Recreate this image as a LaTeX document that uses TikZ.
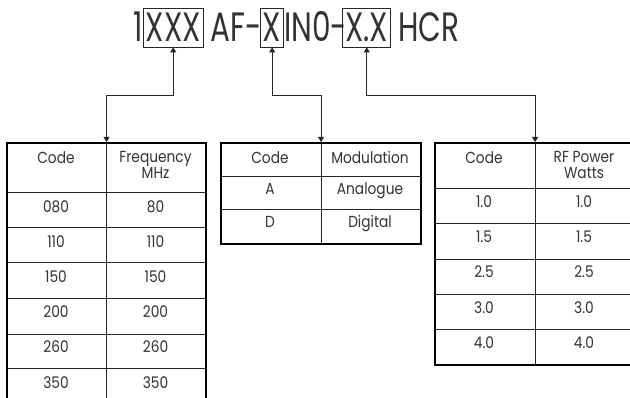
\documentclass[tikz,border=0pt]{standalone}
\usepackage{fontspec}
\setmainfont{Poppins}[FakeStretch=0.86]
\newfontfamily\titlefont{Poppins}[FakeStretch=0.72]
\usetikzlibrary{arrows.meta,calc}
\definecolor{txt}{HTML}{333333}
\begin{document}
\begin{tikzpicture}[x=1pt,y=-1pt,
  ttl/.style={font=\titlefont\fontsize{41}{41}\selectfont, text=txt, inner sep=0pt, anchor=base west},
  codebox/.style={ttl, draw=black!85, line width=0.8pt, text height=34pt, text depth=5pt, inner ysep=0pt, inner xsep=2.5pt},
  tframe/.style={draw=black, line width=2.2pt, anchor=north west, inner sep=0pt},
  tline/.style={draw=black!85, line width=0.9pt},
  cell/.style={font=\fontsize{16}{16}\selectfont, text=txt, inner sep=0pt, align=center, anchor=base},
  hcell/.style={cell, anchor=north},
  conn/.style={draw=black!85, line width=0.8pt, {Triangle[length=5pt,width=6pt]}-{Triangle[length=5pt,width=6pt]}}
]
\useasboundingbox (0,0) rectangle (630,398);
\clip (0,0) rectangle (630,398);
% title
\node[ttl] (p1) at (133,42) {1};
\node[codebox, anchor=base west] (b1) at (p1.base east) {XXX};
\node[ttl] (p2) at ([xshift=7pt]b1.base east) {AF-};
\node[codebox, anchor=base west] (b2) at ([xshift=-2pt]p2.base east) {X};
\node[ttl] (p3) at (b2.base east) {IN0-};
\node[codebox, anchor=base west] (b3) at ([xshift=-5pt]p3.base east) {X.X};
\node[ttl] (p4) at ([xshift=7pt]b3.base east) {HCR};
% table 1
\node[tframe, minimum width=199pt, minimum height=262pt] (T1) at (6,142) {};
\foreach \yy in {192,227,262,298,334,368} \draw[tline] (6,\yy) -- (205,\yy);
\draw[tline] (T1.north) -- (T1.south);
\node[tframe, minimum width=199pt, minimum height=262pt] at (6,142) {};
\node[hcell] (h11) at (56,151) {Code};
\node[hcell] (h12) at (155.5,151) {Frequency\\MHz};
\foreach \a/\b [count=\i] in {080/80,110/110,150/150,200/200,260/260,350/350} {
  \pgfmathsetmacro\yc{192+35.2*(\i-1)+17.6+2.5}
  \node[cell] (t1a\i) at (56,\yc) {\a};
  \node[cell] (t1b\i) at (155.5,\yc) {\b};
}
% table 2
\node[tframe, minimum width=200pt, minimum height=101pt] (T2) at (220,142) {};
\foreach \yy in {176,209} \draw[tline] (220,\yy) -- (420,\yy);
\draw[tline] (T2.north) -- (T2.south);
\node[tframe, minimum width=200pt, minimum height=101pt] at (220,142) {};
\node[hcell] (h21) at (270,151) {Code};
\node[hcell] (h22) at (370,151) {Modulation};
\node[cell] (t2a1) at (270,194.5) {A};
\node[cell] (t2b1) at (370,194.5) {Analogue};
\node[cell] (t2a2) at (270,227.5) {D};
\node[cell] (t2b2) at (370,227.5) {Digital};
% table 3
\node[tframe, minimum width=200pt, minimum height=222pt] (T3) at (434,142) {};
\foreach \yy in {188,223,259,294,329} \draw[tline] (434,\yy) -- (634,\yy);
\draw[tline] (T3.north) -- (T3.south);
\node[tframe, minimum width=200pt, minimum height=222pt] at (434,142) {};
\node[hcell] (h31) at (484,151) {Code};
\node[hcell] (h32) at (584,151) {RF Power\\Watts};
\foreach \a [count=\i] in {1.0,1.5,2.5,3.0,4.0} {
  \pgfmathsetmacro\yc{188+35.2*(\i-1)+17.6+2}
  \node[cell] (t3a\i) at (484,\yc) {\a};
  \node[cell] (t3b\i) at (584,\yc) {\a};
}
% connectors
\coordinate (j) at (0,95);
\draw[conn] (b1.south) -- (b1.south |- j) -| (T1.north);
\draw[conn] (b2.south) -- (b2.south |- j) -| (T2.north);
\draw[conn] (b3.south) -- (b3.south |- j) -| (T3.north);
\end{tikzpicture}
\end{document}
